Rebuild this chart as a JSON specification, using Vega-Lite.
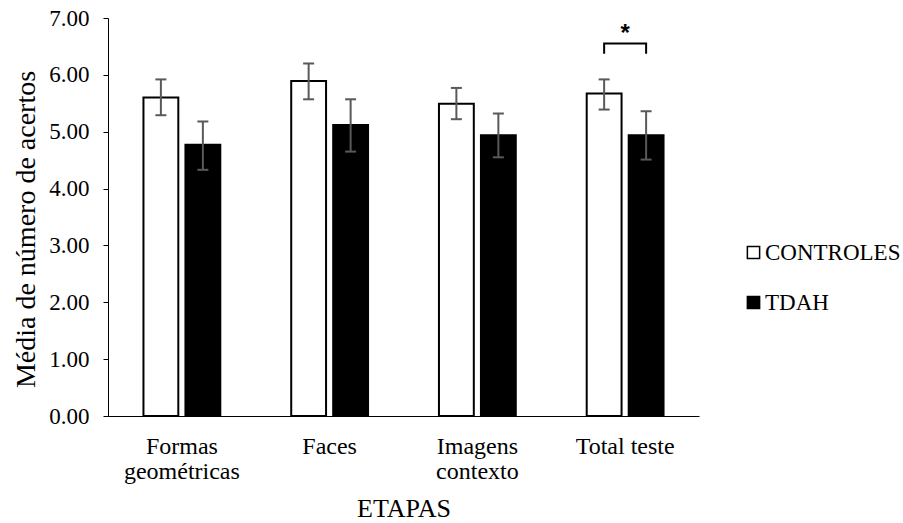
{
  "$schema": "https://vega.github.io/schema/vega-lite/v6.json",
  "autosize": "none",
  "width": 591,
  "height": 398,
  "padding": {"left": 108, "top": 18, "right": 204, "bottom": 107},
  "background": "white",
  "config": {
    "font": "Liberation Serif",
    "view": {"stroke": null},
    "axis": {"labelFont": "Liberation Serif", "titleFont": "Liberation Serif", "labelColor": "black", "titleColor": "black", "domainColor": "black", "tickColor": "black", "grid": false, "titleFontWeight": "normal"},
    "legend": {"labelFont": "Liberation Serif", "labelFontSize": 23, "labelColor": "black"},
    "text": {"font": "Liberation Serif"}
  },
  "datasets": {
    "bars": [
      {"stage": "Formas geométricas", "group": "CONTROLES", "mean": 5.60, "lo": 5.29, "hi": 5.92},
      {"stage": "Formas geométricas", "group": "TDAH", "mean": 4.77, "lo": 4.33, "hi": 5.18},
      {"stage": "Faces", "group": "CONTROLES", "mean": 5.89, "lo": 5.57, "hi": 6.20},
      {"stage": "Faces", "group": "TDAH", "mean": 5.12, "lo": 4.65, "hi": 5.57},
      {"stage": "Imagens contexto", "group": "CONTROLES", "mean": 5.49, "lo": 5.22, "hi": 5.77},
      {"stage": "Imagens contexto", "group": "TDAH", "mean": 4.94, "lo": 4.55, "hi": 5.32},
      {"stage": "Total teste", "group": "CONTROLES", "mean": 5.67, "lo": 5.39, "hi": 5.92},
      {"stage": "Total teste", "group": "TDAH", "mean": 4.94, "lo": 4.51, "hi": 5.36}
    ],
    "bracket": [
      {"stage": "Total teste", "group": "CONTROLES", "v": 6.37, "ord": 1},
      {"stage": "Total teste", "group": "CONTROLES", "v": 6.55, "ord": 2},
      {"stage": "Total teste", "group": "TDAH", "v": 6.55, "ord": 3},
      {"stage": "Total teste", "group": "TDAH", "v": 6.37, "ord": 4}
    ],
    "star": [
      {"stage": "Total teste", "v": 6.72, "label": "*"}
    ]
  },
  "layer": [
    {
      "data": {"name": "bars"},
      "mark": {"type": "bar", "stroke": "black", "strokeWidth": 2},
      "encoding": {
        "x": {"field": "stage", "type": "nominal", "sort": ["Formas geométricas", "Faces", "Imagens contexto", "Total teste"],
          "scale": {"paddingInner": 0.48, "paddingOuter": 0.24},
          "axis": {"title": "ETAPAS", "titleFontSize": 26, "titlePadding": 12, "labelFontSize": 24, "labelAngle": 0, "ticks": false, "labelPadding": 18, "labelLineHeight": 25,
            "labelExpr": "datum.label == 'Total teste' || datum.label == 'Faces' ? datum.label : split(datum.label, ' ')"}},
        "xOffset": {"field": "group", "type": "nominal", "scale": {"paddingInner": 0.17, "paddingOuter": 0}},
        "y": {"field": "mean", "type": "quantitative", "scale": {"domain": [0, 7], "nice": false},
          "axis": {"title": "Média de número de acertos", "titleFontSize": 28, "labelFontSize": 23, "format": ".2f", "values": [0, 1, 2, 3, 4, 5, 6, 7], "tickSize": 5, "labelPadding": 14, "titlePadding": 8, "titleY": 211}},
        "fill": {"field": "group", "type": "nominal", "scale": {"domain": ["CONTROLES", "TDAH"], "range": ["white", "black"]},
          "legend": {"title": null, "orient": "none", "legendX": 634, "legendY": 223, "symbolType": "square", "symbolSize": 150, "symbolStrokeColor": "black", "symbolStrokeWidth": 1.5, "labelFont": "Liberation Serif", "labelFontSize": 23, "labelColor": "black", "rowPadding": 26, "labelOffset": 0,
            "encode": {"labels": {"enter": {"font": {"value": "Liberation Serif"}}, "update": {"font": {"value": "Liberation Serif"}}}}}}
      }
    },
    {
      "data": {"name": "bars"},
      "mark": {"type": "rule", "color": "#595959", "strokeWidth": 2},
      "encoding": {
        "x": {"field": "stage", "type": "nominal", "sort": ["Formas geométricas", "Faces", "Imagens contexto", "Total teste"]},
        "xOffset": {"field": "group", "type": "nominal"},
        "y": {"field": "lo", "type": "quantitative"},
        "y2": {"field": "hi"}
      }
    },
    {
      "data": {"name": "bars"},
      "mark": {"type": "tick", "color": "#595959", "thickness": 2, "size": 11, "opacity": 1},
      "encoding": {
        "x": {"field": "stage", "type": "nominal", "sort": ["Formas geométricas", "Faces", "Imagens contexto", "Total teste"]},
        "xOffset": {"field": "group", "type": "nominal"},
        "y": {"field": "lo", "type": "quantitative"}
      }
    },
    {
      "data": {"name": "bars"},
      "mark": {"type": "tick", "color": "#595959", "thickness": 2, "size": 11, "opacity": 1},
      "encoding": {
        "x": {"field": "stage", "type": "nominal", "sort": ["Formas geométricas", "Faces", "Imagens contexto", "Total teste"]},
        "xOffset": {"field": "group", "type": "nominal"},
        "y": {"field": "hi", "type": "quantitative"}
      }
    },
    {
      "data": {"name": "bracket"},
      "mark": {"type": "line", "color": "black", "strokeWidth": 2},
      "encoding": {
        "x": {"field": "stage", "type": "nominal", "sort": ["Formas geométricas", "Faces", "Imagens contexto", "Total teste"]},
        "xOffset": {"field": "group", "type": "nominal"},
        "y": {"field": "v", "type": "quantitative"},
        "order": {"field": "ord", "type": "quantitative"}
      }
    },
    {
      "data": {"name": "star"},
      "mark": {"type": "text", "font": "Liberation Sans", "fontSize": 24, "fontWeight": "bold", "color": "black", "baseline": "middle"},
      "encoding": {
        "x": {"field": "stage", "type": "nominal", "sort": ["Formas geométricas", "Faces", "Imagens contexto", "Total teste"]},
        "y": {"field": "v", "type": "quantitative"},
        "text": {"field": "label"}
      }
    }
  ]
}
